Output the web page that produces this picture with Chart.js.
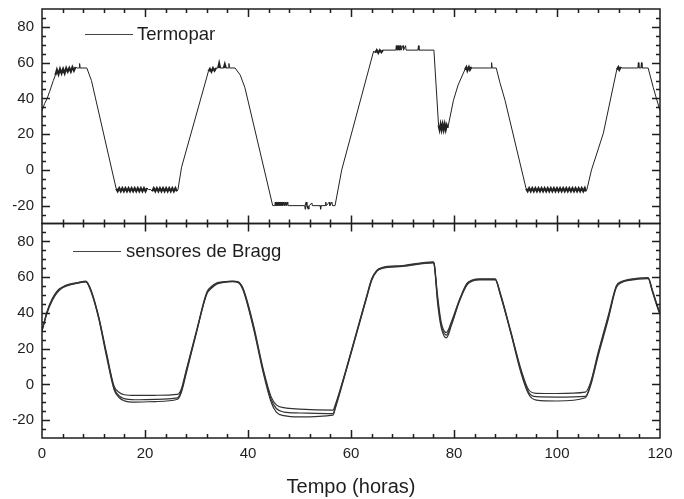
<!DOCTYPE html>
<html>
<head>
<meta charset="utf-8">
<script src="https://cdn.jsdelivr.net/npm/chart.js@4"></script>
<style>
  html, body { margin: 0; padding: 0; background: #fff; }
  canvas { display: block; }
</style>
</head>
<body>
<canvas id="chart" width="684" height="499"></canvas>
<script>
// thermocouple (top panel), incl. the quantisation flicker
const termoHours = [
  0, 0.5, 1, 1.5, 2.2, 2.6, 2.9, 3.2, 3.5, 3.8,
  4.1, 4.4, 4.7, 5.0, 5.3, 5.6, 5.9, 6.2, 6.5, 6.8,
  7.2, 7.3, 7.4, 8.7, 9.6, 14.4,
  14.7, 15.0, 15.3, 15.6, 15.9, 16.2, 16.5, 16.8, 17.1, 17.4,
  17.7, 18.0, 18.3, 18.6, 18.9, 19.2, 19.5, 19.8, 20.1, 20.4,
  20.7, 21.1, 21.4, 21.7, 22.0, 22.3, 22.6, 22.9, 23.2, 23.5,
  23.8, 24.1, 24.4, 24.7, 25.0, 25.3, 25.6, 25.9, 26.2, 26.4,
  27.1, 32.3, 32.6, 32.9, 33.2, 33.5, 33.8, 34.2, 34.4, 34.6,
  35.3, 35.5, 35.7, 36.2, 36.3, 36.4, 37.5, 38.5, 39.4, 44.8,
  45.2, 45.3, 45.4, 45.7, 45.8, 46.1, 46.2, 46.5, 46.6, 46.9,
  47.0, 47.3, 47.4, 47.7, 47.8, 51.0, 51.1, 51.2, 51.4, 51.5,
  51.8, 51.9, 52.4, 52.5, 54.0, 54.1, 54.2, 55.0, 55.1, 55.2,
  55.8, 55.9, 56.3, 56.4, 56.9, 58.2, 64.4, 64.7, 65.0, 65.3,
  65.6, 65.9, 66.2, 68.7, 68.8, 68.9, 69.2, 69.3, 69.6, 69.7,
  70.1, 70.2, 70.6, 70.7, 73.0, 73.1, 73.2, 76.1, 77.0, 77.2,
  77.4, 77.6, 77.8, 78.0, 78.2, 78.4, 78.6, 78.8, 79.9, 80.8,
  82.1, 82.4, 82.6, 82.9, 83.1, 83.4, 83.6, 87.2, 87.3, 87.4,
  88.2, 88.9, 89.9, 94.0, 94.3, 94.6, 94.9, 95.2, 95.5, 95.8,
  96.1, 96.4, 96.7, 97.0, 97.3, 97.6, 97.9, 98.2, 98.5, 98.8,
  99.1, 99.4, 99.7, 100.0, 100.3, 100.6, 100.9, 101.2, 101.5, 101.8,
  102.1, 102.4, 102.7, 103.0, 103.3, 103.6, 103.9, 104.2, 104.5, 104.8,
  105.1, 105.4, 105.6, 105.8, 106.7, 109.0, 111.6, 111.9, 112.1, 112.4,
  112.6, 115.7, 115.8, 115.9, 116.3, 116.4, 116.5, 117.7, 118.7, 120
];
const termoTemp = [
  33, 37, 40, 44, 50, 53, 56, 53.5, 56.5, 54,
  56.5, 54, 57, 55, 57, 55, 57.5, 55.5, 57.5, 57,
  57, 59.5, 57, 57, 50, -10.5,
  -12, -10.2, -12, -10.2, -12, -10.2, -12, -10.2, -12, -10.2,
  -12, -10.2, -12, -10.2, -12, -10.2, -12, -10.2, -12, -10.2,
  -11, -11, -12, -10.2, -12, -10.2, -12, -10.2, -12, -10.2,
  -12, -10.2, -12, -10.2, -12, -10.2, -12, -10.2, -12, -11,
  1.5, 55, 56.5, 55, 57, 55.5, 57, 57, 59.5, 57,
  57, 59, 57, 57, 59.5, 57, 57, 53, 46, -20,
  -20, -18, -20, -18, -20, -18, -20, -18, -20, -18,
  -20, -18, -20, -18, -20, -20, -22, -20, -18, -20,
  -22, -20, -18.5, -20, -20, -22, -20, -20, -18, -20,
  -18, -20, -18, -20, -20, 0, 66.5, 65.5, 67, 65.5,
  67, 65.8, 67, 67, 69.5, 67, 69.5, 67, 69.5, 67,
  69.5, 67, 69.5, 67, 67, 69.5, 67, 67, 25, 22.5,
  25.5, 22.5, 25.5, 22.5, 25.5, 22.5, 25, 23.5, 39, 47.5,
  56, 57.5, 55.5, 57.5, 56, 57.5, 57, 57, 60, 57,
  57, 49, 39, -10.5, -12, -10.2, -12, -10.2, -12, -10.2,
  -12, -10.2, -12, -10.2, -12, -10.2, -12, -10.2, -12, -10.2,
  -12, -10.2, -12, -10.2, -12, -10.2, -12, -10.2, -12, -10.2,
  -12, -10.2, -12, -10.2, -12, -10.2, -12, -10.2, -12, -10.2,
  -12, -10.2, -12, -11, 0, 20.5, 56, 57.5, 56, 57.5,
  57, 57, 60, 57, 57, 60, 57, 57, 46, 33
];

// Bragg grating sensors (bottom panel), three traces
const braggHours = [
  0, 1, 2, 3, 4, 5, 6, 7, 8.5, 9.5,
  11, 12.5, 14, 15, 16, 18, 22, 26.3, 27, 28,
  30, 32, 33, 34, 35, 37, 38, 39, 41, 43,
  44.5, 45.5, 47, 50, 56.5, 57, 59, 61, 63, 64,
  65, 66, 70, 76, 76.2, 76.8, 77.5, 78.5, 79.5, 81,
  82.5, 83.5, 85, 88, 89, 91, 93, 94.5, 96, 100,
  105.5, 106.5, 108, 110, 111.5, 112.5, 114, 117.7, 118.5, 119.5,
  120
];
const braggA = [
  30, 41, 48, 52.5, 54.5, 55.8, 56.5, 57, 57.8, 53,
  38, 18, -1, -4.5, -5.8, -6.2, -6.1, -5.6, -3, 8,
  30, 51.5, 55, 56.8, 57.3, 57.8, 57.5, 54, 34, 8,
  -7, -11.5, -13, -13.8, -14.4, -11, 8, 28.5, 49, 59,
  63.8, 65.3, 66.5, 68.6, 67, 50, 35, 29, 35, 47,
  56.5, 58.3, 59, 59, 51, 30, 8.5, -3, -5, -5.1,
  -4.3, 1, 18, 39, 55, 57.5, 58.8, 59.8, 53, 44,
  40
];
const braggB = [
  30, 40.5, 47.5, 52, 54.3, 55.5, 56.2, 56.8, 57.5, 52.5,
  37.5, 17, -2, -6.5, -8, -8.6, -8.4, -7.6, -4, 7,
  29.5, 51, 54.5, 56.5, 57.1, 57.6, 57.3, 53.5, 33, 7,
  -8.5, -13.5, -15.5, -16, -16.4, -12, 7.5, 28, 48.5, 58.5,
  63.5, 65, 66.2, 68.3, 66.5, 48, 33.5, 27.5, 34, 46.5,
  56, 58, 58.7, 58.7, 50.5, 29.5, 7.5, -4.5, -6.9, -7.1,
  -6.7, 0, 17, 38, 54.5, 57.2, 58.5, 59.5, 52.5, 43.5,
  39.5
];
const braggC = [
  30, 40, 47, 51.5, 54, 55.2, 56, 56.6, 57.3, 52,
  37, 16, -3, -7.5, -9.2, -9.9, -9.6, -8.3, -5, 6,
  29, 50.5, 54, 56.2, 56.9, 57.4, 57.1, 53, 32, 6,
  -10, -15.5, -17.5, -18.2, -17.2, -13, 7, 27.5, 48, 58,
  63.2, 64.8, 66, 68, 66, 46, 32, 26, 33, 46,
  55.5, 57.7, 58.4, 58.4, 50, 29, 6.5, -5.5, -8.8, -9.3,
  -7.5, -1, 16, 37, 54, 56.9, 58.2, 59.2, 52, 43,
  39
];

const toPoints = (xs, ys) => xs.map((x, i) => ({ x: x, y: ys[i] }));

const FONT = "'Liberation Sans', Arial, Helvetica, sans-serif";
const INK = '#1e1e1e';

// frame, inward ticks on all sides and the in-plot legends
const framePlugin = {
  id: 'frame',
  afterDraw(chart) {
    const ctx = chart.ctx;
    const xs = chart.scales.x;
    const panels = [chart.scales.yTop, chart.scales.yBot];
    ctx.save();
    ctx.strokeStyle = INK;
    ctx.lineWidth = 1.5;
    panels.forEach(ys => {
      const top = ys.top, bot = ys.bottom, l = xs.left, r = xs.right;
      ctx.strokeRect(l, top, r - l, bot - top);
      ctx.beginPath();
      for (let v = 4; v < 120; v += 4) {
        const px = Math.round(xs.getPixelForValue(v)) + 0.5;
        const len = v % 20 === 0 ? 8 : 4;
        ctx.moveTo(px, bot); ctx.lineTo(px, bot - len);
        ctx.moveTo(px, top); ctx.lineTo(px, top + len);
      }
      for (let v = -25; v < 90; v += 5) {
        const py = Math.round(ys.getPixelForValue(v)) + 0.5;
        const len = v % 20 === 0 ? 8 : 4;
        ctx.moveTo(l, py); ctx.lineTo(l + len, py);
        ctx.moveTo(r, py); ctx.lineTo(r - len, py);
      }
      ctx.stroke();
    });

    ctx.strokeStyle = '#444';
    ctx.lineWidth = 1;
    ctx.fillStyle = INK;
    ctx.font = '18.5px ' + FONT;
    ctx.textBaseline = 'middle';
    ctx.beginPath();
    ctx.moveTo(85, 34.5); ctx.lineTo(133, 34.5);
    ctx.moveTo(73, 251.5); ctx.lineTo(121, 251.5);
    ctx.stroke();
    ctx.fillText('Termopar', 137, 35);
    ctx.fillText('sensores de Bragg', 126, 252);
    ctx.restore();
  }
};

const yAxis = {
  type: 'linear',
  position: 'left',
  stack: 'panels',
  stackWeight: 1,
  min: -30,
  max: 90,
  grid: { display: false, drawTicks: false },
  border: { display: false },
  ticks: {
    stepSize: 10,
    autoSkip: false,
    padding: 8,
    color: INK,
    font: { family: FONT, size: 15 },
    callback: v => (v % 20 === 0 && v > -30 && v < 90 ? String(v) : '')
  },
  afterFit: s => { s.width = 42; s.paddingTop = 0; s.paddingBottom = 0; }
};

// the flicker toggles are drawn heavier so they read as a solid band
const flickerWidth = c => {
  const dx = c.p1.parsed.x - c.p0.parsed.x;
  const dy = Math.abs(c.p1.parsed.y - c.p0.parsed.y);
  return dx >= 0.15 && dx < 0.35 && dy > 1 ? 2.1 : 1;
};

new Chart(document.getElementById('chart'), {
  type: 'line',
  data: {
    datasets: [
      { label: 'Termopar', data: toPoints(termoHours, termoTemp), yAxisID: 'yTop',
        borderColor: '#222', borderWidth: 1, tension: 0,
        segment: { borderWidth: flickerWidth } },
      { label: 'sensores de Bragg', data: toPoints(braggHours, braggA), yAxisID: 'yBot',
        borderColor: '#333', borderWidth: 1.2, cubicInterpolationMode: 'monotone' },
      { label: 'sensores de Bragg 2', data: toPoints(braggHours, braggB), yAxisID: 'yBot',
        borderColor: '#333', borderWidth: 1.2, cubicInterpolationMode: 'monotone' },
      { label: 'sensores de Bragg 3', data: toPoints(braggHours, braggC), yAxisID: 'yBot',
        borderColor: '#333', borderWidth: 1.2, cubicInterpolationMode: 'monotone' }
    ]
  },
  options: {
    responsive: false,
    animation: false,
    layout: { padding: { top: 9, right: 24, left: 0, bottom: 0 } },
    elements: { point: { radius: 0 } },
    plugins: { legend: { display: false }, tooltip: { enabled: false } },
    scales: {
      x: {
        type: 'linear',
        min: 0,
        max: 120,
        grid: { display: false, drawTicks: false },
        border: { display: false },
        ticks: {
          stepSize: 20,
          autoSkip: false,
          maxRotation: 0,
          padding: 7,
          color: INK,
          font: { family: FONT, size: 15 }
        },
        title: {
          display: true,
          text: 'Tempo (horas)',
          color: INK,
          font: { family: FONT, size: 20 },
          padding: { top: 12, bottom: 0 }
        },
        afterFit: s => { s.height = 61; }
      },
      yBot: Object.assign({}, yAxis),
      yTop: Object.assign({}, yAxis)
    }
  },
  plugins: [framePlugin]
});
</script>
</body>
</html>
